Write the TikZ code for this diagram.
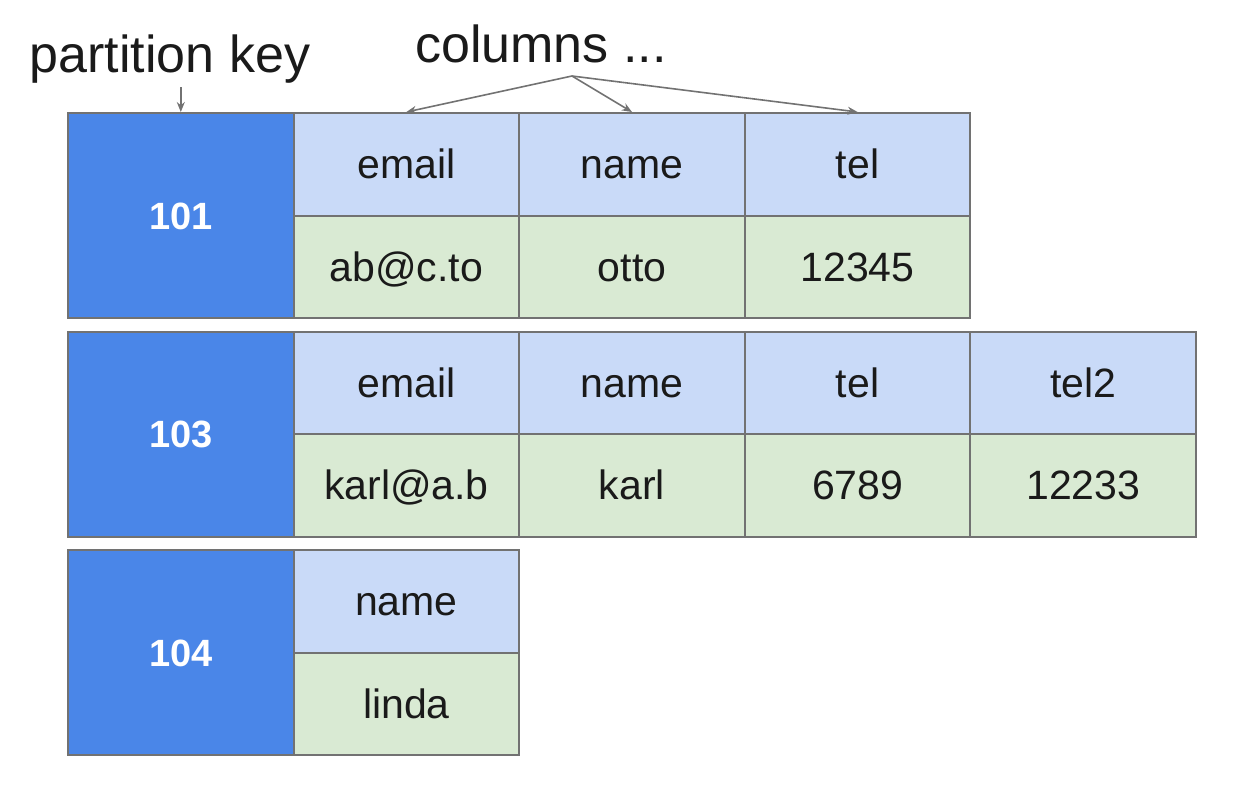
\documentclass[tikz,border=0pt]{standalone}
\usepackage{fontspec}
\setmainfont{Liberation Sans}
\usetikzlibrary{arrows.meta,positioning,calc}
\definecolor{Edge}{HTML}{727272}
\definecolor{KeyBlue}{HTML}{4A86E8}
\definecolor{HeadBlue}{HTML}{C9DAF8}
\definecolor{ValGreen}{HTML}{D9EAD3}
\definecolor{Ink}{HTML}{1A1A1A}
\tikzset{
  cellbase/.style={draw=Edge,line width=2pt,inner sep=0pt,text=Ink,
    minimum width=225.6pt,text height=29pt,text depth=0pt,
    font=\fontsize{41}{46}\selectfont},
  keybox/.style={cellbase,fill=KeyBlue,minimum height=205pt,text=white,
    text height=27pt,font=\bfseries\fontsize{38}{44}\selectfont},
  headcell/.style={cellbase,fill=HeadBlue,minimum height=102.5pt},
  valcell/.style={cellbase,fill=ValGreen,minimum height=102.5pt},
  toptext/.style={text=Ink,inner sep=0pt,font=\fontsize{52}{60}\selectfont},
  pointer/.style={draw=Edge,line width=1.6pt,-{Stealth[length=10pt,width=8pt]}},
}

\begin{document}
\begin{tikzpicture}[x=1pt,y=-1pt]
\useasboundingbox (0,0) rectangle (1240,788);
\node[toptext,anchor=base] (pklabel) at (170,72) {partition key};
\node[toptext,anchor=base] (collabel) at (541,62) {columns ...};
% partition keys
\foreach \r/\top/\k in {1/113/101,2/331.5/103,3/550/104} {
  \node[keybox] (key\r) at (180.8,\top+102.5) {\k};
}
% row 101
\foreach \c/\h/\v in {1/email/ab@c.to,2/name/otto,3/tel/12345} {
  \node[headcell] (h1\c) at (180.8+225.6*\c,164.25) {\h};
  \node[valcell] (v1\c) at (180.8+225.6*\c,266.75) {\v};
}
% row 103
\foreach \c/\h/\v in {1/email/karl@a.b,2/name/karl,3/tel/6789,4/tel2/12233} {
  \node[headcell] (h2\c) at (180.8+225.6*\c,382.75) {\h};
  \node[valcell] (v2\c) at (180.8+225.6*\c,485.25) {\v};
}
% row 104
\node[headcell] (h31) at (406.4,601.25) {name};
\node[valcell] (v31) at (406.4,703.75) {linda};
% pointers
\coordinate (pksrc) at (180.8,87);
\coordinate (colsrc) at (572,76);
\draw[pointer] (pksrc) -- (key1.north);
\foreach \c in {1,2,3} {
  \draw[pointer] (colsrc) -- (h1\c.north);
}
\end{tikzpicture}
\end{document}
